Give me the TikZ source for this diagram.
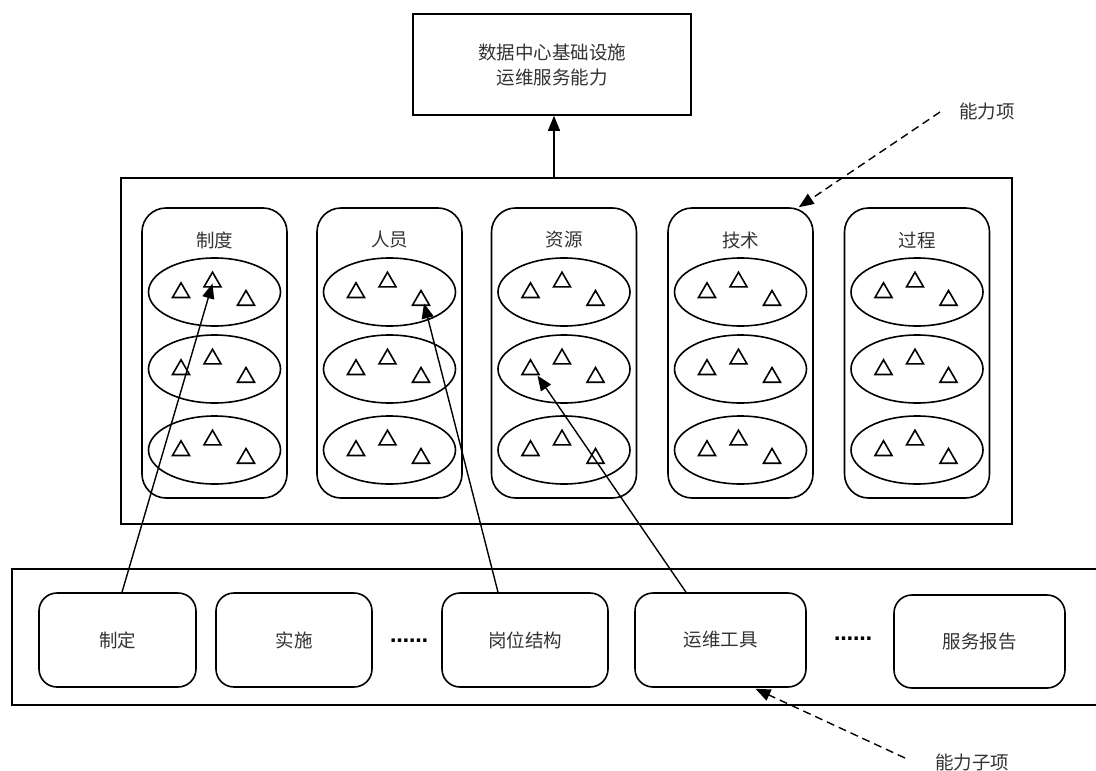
\documentclass[tikz,border=0pt]{standalone}
\usepackage{fontspec}
\setmainfont{Noto Sans CJK SC}
\newfontfamily\dotfont{DejaVu Sans}
\usetikzlibrary{shapes.geometric,arrows.meta,calc}
\begin{document}
\begin{tikzpicture}[x=1pt,y=-1pt,
  txt/.style={font=\fontsize{18.5}{24}\selectfont, text=black!80},
  dots/.style={font=\dotfont\bfseries\fontsize{19}{22}\selectfont, inner sep=0pt, anchor=base},
  outerbox/.style={draw, line width=1.3pt},
  colbox/.style={draw, line width=1.6pt, rounded corners=24pt},
  itembox/.style={draw, line width=1.6pt, rounded corners=18pt},
  ell/.style={draw, line width=1.6pt, ellipse, minimum width=132pt, minimum height=68pt, inner sep=0pt},
  tri/.style={draw, line width=1.6pt, regular polygon, regular polygon sides=3, minimum size=19.6pt, inner sep=0pt},
  arr/.style={line width=1.4pt, -{Triangle[length=15pt,width=12pt]}},
  darr/.style={line width=1.4pt, dash pattern=on 8pt off 5pt, -{Triangle[length=15pt,width=12pt]}}
]
\useasboundingbox[fill=white] (0,0) rectangle (1096,771);

% top box
\node[draw, line width=1.6pt, minimum width=278pt, minimum height=101pt, align=center, txt] (top) at (552,64.5) {数据中心基础设施\\[1pt]运维服务能力};

% middle big box
\draw[outerbox] (121,178) rectangle (1012,524);
\coordinate (mtop) at (554,178);
\draw[arr] (mtop) -- (top.south -| mtop);

% columns
\foreach \i/\cx/\lab in {1/214.5/制度, 2/389.5/人员, 3/564/资源, 4/740.5/技术, 5/917/过程}{
  \node[colbox, minimum width=145pt, minimum height=290pt] (c\i) at (\cx,353) {};
  \node[txt] (l\i) at (\cx,240) {\lab};
  \foreach \j/\ey in {1/292, 2/369, 3/450}{
    \node[ell] (e\i\j) at (\cx,\ey) {};
    \node[tri] (t\i\j1) at ($(e\i\j.center)+(-33.5,0.6)$) {};
    \node[tri] (t\i\j2) at ($(e\i\j.center)+(-2,-10)$) {};
    \node[tri] (t\i\j3) at ($(e\i\j.center)+(31.5,8.3)$) {};
  }
}

% bottom box
\draw[outerbox] (12,569) rectangle (1110,705);
\node[itembox, txt, minimum width=157pt, minimum height=94pt] (zd) at (117.5,640) {制定};
\node[itembox, txt, minimum width=156pt, minimum height=94pt] (ss) at (294,640) {实施};
\node[dots] (d1) at (409,642) {……};
\node[itembox, txt, minimum width=166pt, minimum height=94pt] (gw) at (525,640) {岗位结构};
\node[itembox, txt, minimum width=171pt, minimum height=94pt] (yw) at (720.5,640) {运维工具};
\node[dots] (d2) at (853,640) {……};
\node[itembox, txt, minimum width=171pt, minimum height=93pt] (fw) at (979.5,641.5) {服务报告};

% solid connectors
\draw[arr] ($(zd.north)+(4.5,0)$) -- ($(t112.center)+(0,1.5)$);
\draw[arr] ($(gw.north)+(-27,0)$) -- ($(t213.center)+(3,3)$);
\draw[arr] ($(yw.north)+(-34.5,0)$) -- ($(t321.center)+(7,6)$);

% labels with dashed arrows
\node[txt] (nlx) at (987,111) {能力项};
\coordinate (nlxs) at (940,112);
\draw[darr] (nlxs) -- ($(c4.north east)+(-15,0)$);
\node[txt] (nlzx) at (972,762) {能力子项};
\coordinate (nlzxs) at (905,758);
\draw[darr] (nlzxs) -- ($(yw.south)+(35,1)$);
\end{tikzpicture}
\end{document}
